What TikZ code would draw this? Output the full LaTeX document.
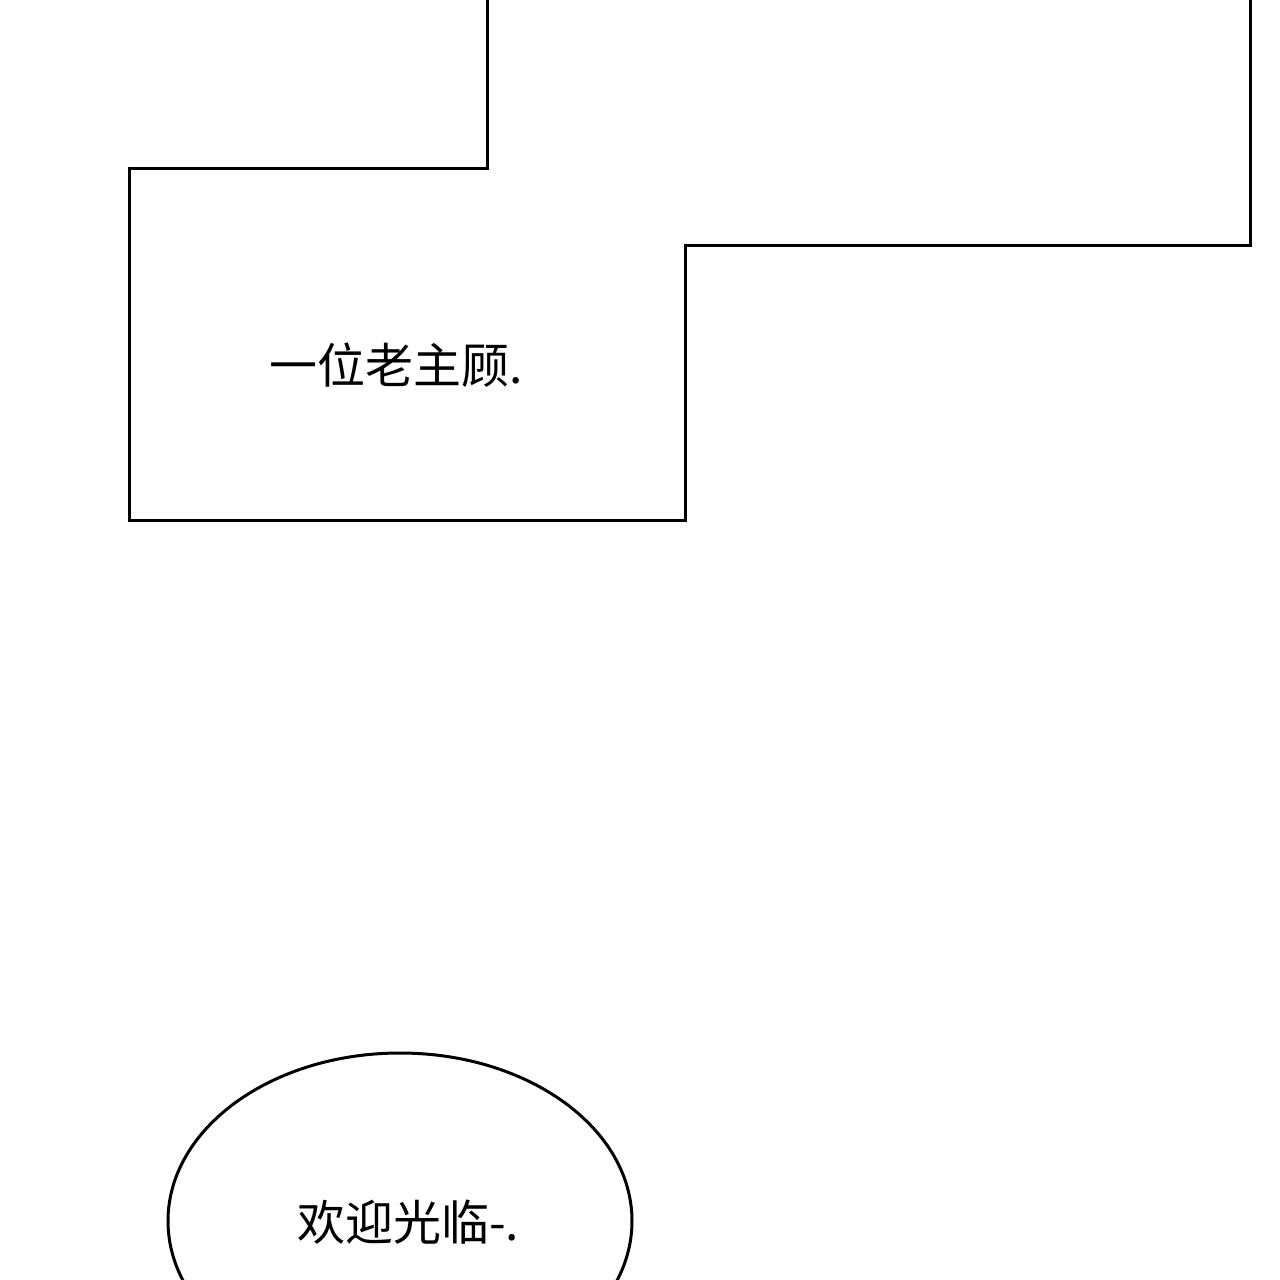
\documentclass[tikz,border=0pt]{standalone}
\usepackage{fontspec}
\newfontfamily\cjk{Noto Sans CJK SC}
\begin{document}
\begin{tikzpicture}[x=0.5pt,y=-0.5pt,
  line/.style={line width=1.5pt,line join=miter},
  txt/.style={font=\cjk\fontsize{24}{28}\selectfont,inner sep=0}]
\useasboundingbox (0,0) rectangle (1280,1280);
\clip (0,0) rectangle (1280,1280);
\draw[line] (487,-5) -- (487,168) -- (129,168) -- (129,520) -- (685,520) -- (685,245) -- (1250,245) -- (1250,-5);
\node[txt] (t1) at (396,365) {一位老主顾.};
\draw[line] (400,1221) ellipse [x radius=232, y radius=168];
\node[txt] (t2) at (408,1222) {欢迎光临-.};
\end{tikzpicture}
\end{document}
